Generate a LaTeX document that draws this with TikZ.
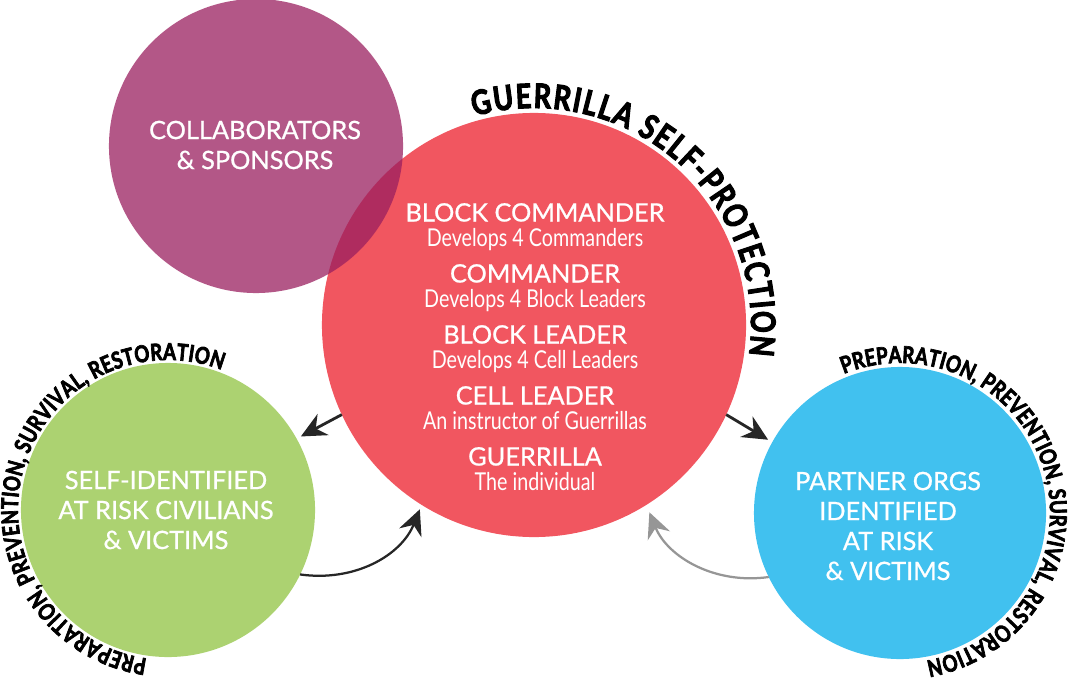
\documentclass[tikz,border=0pt]{standalone}
\usepackage{fontspec}
\setmainfont{Lato}
\newfontfamily\titlefont[UprightFeatures={FakeBold=0.8}]{Lato}
\newfontfamily\condfont[FakeStretch=0.8]{Lato}
\newfontfamily\arcfont[FakeStretch=0.8,BoldFeatures={FakeBold=3}]{Lato}
\usetikzlibrary{decorations.text,arrows.meta}

\definecolor{colPurple}{RGB}{154,31,95}
\definecolor{colRed}{RGB}{241,86,96}
\definecolor{colGreen}{RGB}{172,210,113}
\definecolor{colBlue}{RGB}{65,193,239}
\definecolor{colGray}{RGB}{150,150,150}

\begin{document}
\begin{tikzpicture}[x=0.025cm,y=0.025cm]

    \tikzset{circlestyle/.style={circle,inner sep=0pt,outer sep=0pt}}
    \tikzset{titlestyle/.style={text=white,align=center,font=\titlefont\fontsize{18}{21.3}\selectfont}}
    \tikzset{substyle/.style={text=white,font=\condfont\fontsize{17.5}{20}\selectfont}}
    \tikzset{arrowstyle/.style={-{Stealth[length=18pt,width=17pt,inset=6pt]},line width=2pt,color=black!85}}
    \useasboundingbox (0,0) rectangle (1069,680);

    \node[circlestyle,fill=colRed,minimum size=10.6cm] (cGuer) at (534,355) {};
    \node[circlestyle,fill=colPurple,fill opacity=0.75,minimum size=7.35cm] (cColab) at (256,534) {};
    \node[circlestyle,fill=colGreen,minimum size=7.35cm] (cCivil) at (168,170) {};
    \node[circlestyle,fill=colBlue,minimum size=7.3cm] (cPartner) at (900,167) {};

    \node[titlestyle] (lColab) at (255,535) {COLLABORATORS\\\& SPONSORS};
    \node[titlestyle] (lCivil) at (166,170) {SELF-IDENTIFIED\\AT RISK CIVILIANS\\\& VICTIMS};
    \node[titlestyle] (lPartner) at (888,154) {PARTNER ORGS\\IDENTIFIED\\AT RISK\\\& VICTIMS};

    \node[titlestyle,anchor=base] (t1) at (535,458.5) {BLOCK COMMANDER};
    \node[substyle,anchor=base] (d1) at (535,433.5) {Develops 4 Commanders};
    \node[titlestyle,anchor=base] (t2) at (535,397.5) {COMMANDER};
    \node[substyle,anchor=base] (d2) at (535,372.5) {Develops 4 Block Leaders};
    \node[titlestyle,anchor=base] (t3) at (535,336.5) {BLOCK LEADER};
    \node[substyle,anchor=base] (d3) at (535,311.5) {Develops 4 Cell Leaders};
    \node[titlestyle,anchor=base] (t4) at (535,275.5) {CELL LEADER};
    \node[substyle,anchor=base] (d4) at (535,250.5) {An instructor of Guerrillas};
    \node[titlestyle,anchor=base] (t5) at (535,214.5) {GUERRILLA};
    \node[substyle,anchor=base] (d5) at (535,189.5) {The individual};

    % texto sobre los arcos
    \path[decorate,decoration={text along path,text align=fit to path,
        text={|\arcfont\bfseries\fontsize{24}{24}\selectfont|GUERRILLA SELF-PROTECTION}}]
        ([shift={(106:217)}]cGuer.center) arc[start angle=106,end angle=-8,radius=217];
    \path[decorate,decoration={text along path,text align=fit to path,
        text={|\arcfont\bfseries\fontsize{16.5}{16}\selectfont|PREPARATION, PREVENTION, SURVIVAL, RESTORATION}}]
        ([shift={(262:150)}]cCivil.center) arc[start angle=262,end angle=69,radius=150];
    \path[decorate,decoration={text along path,text align=fit to path,
        text={|\arcfont\bfseries\fontsize{16.5}{16}\selectfont|PREPARATION, PREVENTION, SURVIVAL, RESTORATION}}]
        ([shift={(112:150)}]cPartner.center) arc[start angle=112,end angle=-80,radius=150];

    \draw[arrowstyle,shorten >=0.12cm] (cGuer.205) -- (cCivil.29);
    \draw[arrowstyle,shorten >=0.12cm] (cGuer.-25) -- (cPartner.151);
    \draw[arrowstyle,line width=1.6pt,shorten >=0.12cm] (cCivil.-26) to[out=-8,in=248] (cGuer.238);
    \draw[arrowstyle,line width=1.6pt,color=colGray,shorten >=0.2cm] (cPartner.206) to[out=188,in=292] (cGuer.302);

\end{tikzpicture}
\end{document}
